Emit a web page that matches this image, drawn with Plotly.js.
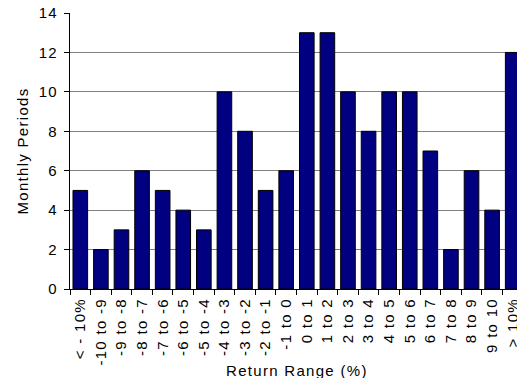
<!DOCTYPE html>
<html>
<head>
<meta charset="utf-8">
<script src="https://cdn.plot.ly/plotly-3.0.1.min.js"></script>
<style>
html, body { margin: 0; padding: 0; overflow: hidden; background: #fff; }
#chart { width: 540px; height: 378px; }
.xtick text, .ytick text, .annotation-text, .g-ytitle text { letter-spacing: 1.3px; }
</style>
</head>
<body>
<div id="chart"></div>
<script>
const categories = ["< - 10%", "-10 to -9", "-9 to -8", "-8 to -7", "-7 to -6", "-6 to -5", "-5 to -4", "-4 to -3", "-3 to -2", "-2 to -1", "-1 to 0", "0 to 1", "1 to 2", "2 to 3", "3 to 4", "4 to 5", "5 to 6", "6 to 7", "7 to 8", "8 to 9", "9 to 10", "> 10%"];
const periods = [5, 2, 3, 6, 5, 4, 3, 10, 8, 5, 6, 13, 13, 10, 8, 10, 10, 7, 2, 6, 4, 12];
const yTicks = [0, 2, 4, 6, 8, 10, 12, 14];

const fontFam = "Liberation Sans, Arial, sans-serif";

const trace = {
  type: "bar",
  x: categories,
  y: periods,
  marker: { color: "#000080", line: { color: "#000000", width: 1 } },
  hoverinfo: "x+y"
};

const layout = {
  width: 540,
  height: 378,
  margin: { l: 70, r: 17, t: 13, b: 89 },
  paper_bgcolor: "#ffffff",
  plot_bgcolor: "#ffffff",
  bargap: 0.29,
  showlegend: false,
  font: { family: fontFam, size: 15, color: "#000000" },
  xaxis: {
    type: "category",
    tickson: "boundaries",
    ticks: "outside",
    ticklen: 5,
    tickcolor: "#000000",
    tickangle: -90,
    ticklabelstandoff: 2,
    showline: true,
    linecolor: "#000000",
    linewidth: 1,
    showgrid: false,
    tickfont: { family: fontFam, size: 15, color: "#000000" },
    automargin: false
  },
  yaxis: {
    range: [0, 14],
    tickvals: yTicks,
    ticks: "outside",
    ticklen: 5,
    tickcolor: "#000000",
    ticklabelstandoff: 3,
    showline: true,
    linecolor: "#000000",
    linewidth: 1,
    showgrid: true,
    gridcolor: "#808080",
    gridwidth: 1,
    zeroline: false,
    tickfont: { family: fontFam, size: 15, color: "#000000" },
    title: { text: "Monthly Periods", font: { family: fontFam, size: 15, color: "#000000" }, standoff: 6 },
    automargin: false
  },
  annotations: [{
    text: "Return Range (%)",
    xref: "paper", yref: "paper",
    x: 0.5, y: 0,
    xanchor: "center", yanchor: "top",
    yshift: -71,
    showarrow: false,
    font: { family: fontFam, size: 15, color: "#000000" }
  }]
};

Plotly.newPlot("chart", [trace], layout, { displayModeBar: false, staticPlot: true });
</script>
</body>
</html>
